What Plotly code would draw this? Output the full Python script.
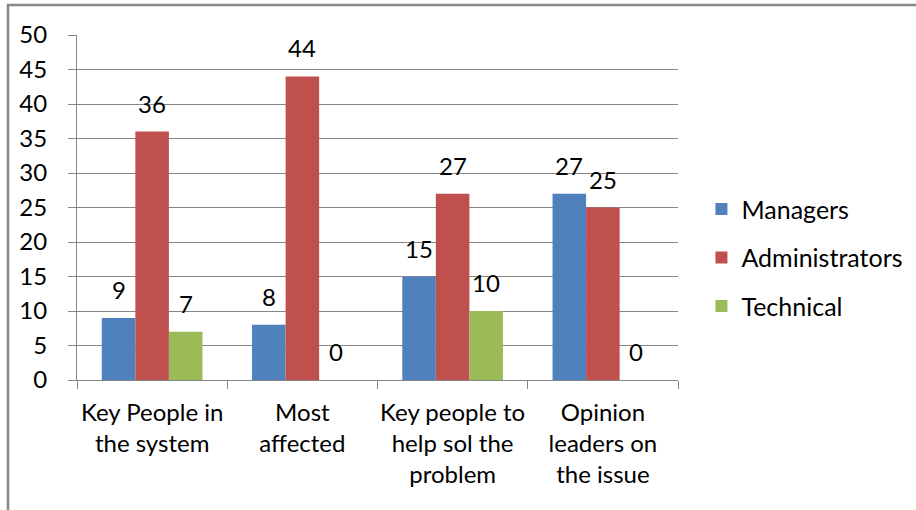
import plotly.graph_objects as go

categories = ["Key People in<br>the system", "Most<br>affected",
              "Key people to<br>help sol the<br>problem", "Opinion<br>leaders on<br>the issue"]
series_names = ["Managers", "Administrators", "Technical"]
managers = [9, 8, 15, 27]
administrators = [36, 44, 27, 25]
technical = [7, 0, 10, 0]
colors = ["#4F81BD", "#C0504D", "#9BBB59"]
y_ticks = [0, 5, 10, 15, 20, 25, 30, 35, 40, 45, 50]

FONT = "Lato"
FS = 24
values = [managers, administrators, technical]

fig = go.Figure()
for i, (name, vals) in enumerate(zip(series_names, values)):
    fig.add_trace(go.Bar(x=categories, y=vals, name=name, marker_color=colors[i],
                         marker_line_width=0, legendgroup=name))

annotations = []
bar_px = 33.6
for i, vals in enumerate(values):
    for c, v in zip(categories, vals):
        annotations.append(dict(x=c, y=v, xref="x", yref="y", text=str(v), showarrow=False,
                                xshift=(i - 1) * bar_px, yanchor="bottom", yshift=12,
                                font=dict(family=FONT, size=FS, color="#000")))

fig.update_layout(
    width=916, height=510,
    margin=dict(l=77, r=238, t=35, b=130, autoexpand=False),
    paper_bgcolor="white", plot_bgcolor="white",
    barmode="group", bargap=0.33, bargroupgap=0,
    font=dict(family=FONT, size=FS, color="#000"),
    showlegend=True,
    legend=dict(x=1.039, y=0.354, yanchor="middle", xanchor="left",
                font=dict(family=FONT, size=25, color="#000"),
                tracegroupgap=13, itemwidth=30),
    annotations=annotations,
    shapes=[dict(type="rect", xref="paper", yref="paper", x0=-0.1148, x1=1.6,
                 y0=-0.6, y1=1.087, line=dict(color="#878787", width=2.5),
                 fillcolor="rgba(0,0,0,0)", layer="below")],
)
fig.update_xaxes(showline=True, linecolor="#868686", linewidth=1,
                 ticks="outside", tickson="boundaries", ticklen=8, tickcolor="#868686",
                 ticklabelstandoff=11, tickangle=0, automargin=False,
                 showgrid=False, tickfont=dict(family=FONT, size=FS, color="#000"))
fig.update_yaxes(range=[0, 50], tickvals=y_ticks, showline=True, linecolor="#868686",
                 linewidth=1, ticks="outside", ticklen=8, tickcolor="#868686",
                 ticklabelstandoff=16, automargin=False,
                 showgrid=True, gridcolor="#868686", gridwidth=1, zeroline=False,
                 tickfont=dict(family=FONT, size=FS, color="#000"))

fig.write_html("out.html")
